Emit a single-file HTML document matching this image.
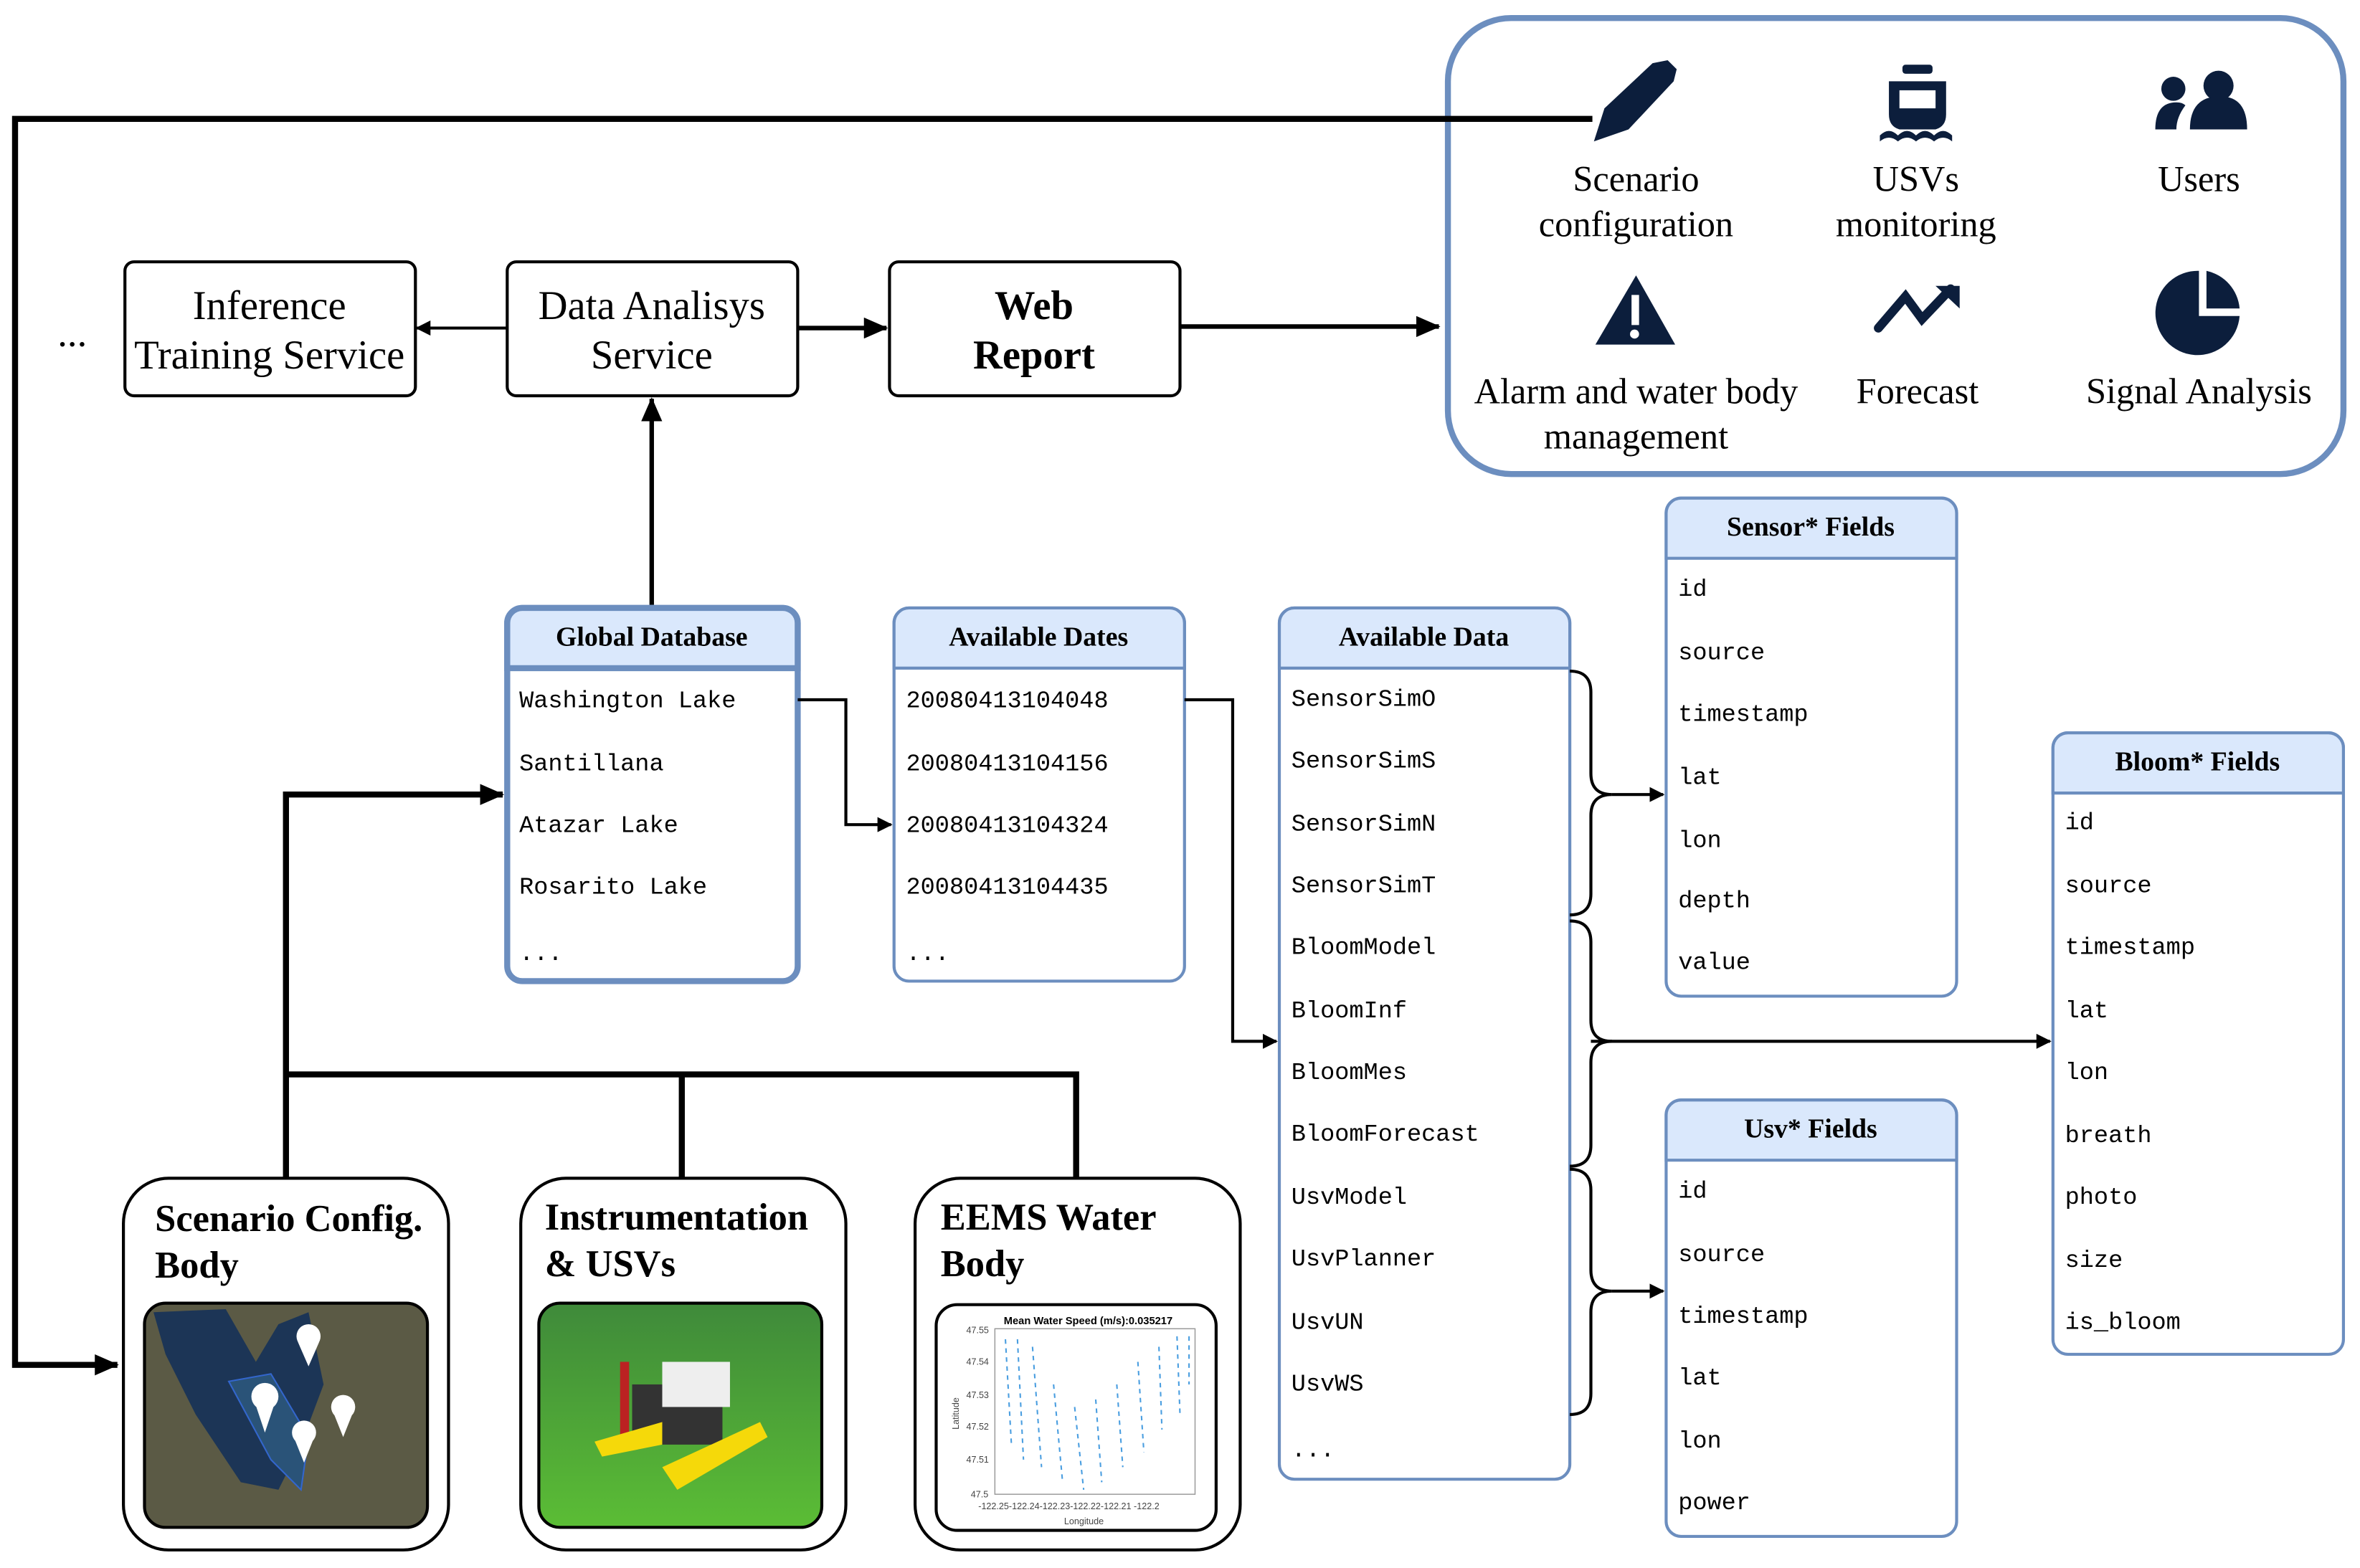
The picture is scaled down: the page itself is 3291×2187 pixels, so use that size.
<!DOCTYPE html>
<html><head><meta charset="utf-8"><style>html,body{margin:0;padding:0;background:#fff}svg{display:block}</style></head>
<body>
<svg width="3291" height="2187" viewBox="0 0 1568 1042" xmlns="http://www.w3.org/2000/svg">
<defs>
<marker id="ah" markerWidth="10" markerHeight="10" refX="9" refY="5" orient="auto" markerUnits="userSpaceOnUse"><path d="M0,0 L10,5 L0,10 Z" fill="#000"/></marker>
<marker id="ah2" markerWidth="16" markerHeight="14" refX="15" refY="7" orient="auto" markerUnits="userSpaceOnUse"><path d="M0,0 L16,7 L0,14 Z" fill="#000"/></marker>
<linearGradient id="grn" x1="0" y1="0" x2="0" y2="1"><stop offset="0" stop-color="#3f8a3a"/><stop offset="1" stop-color="#5bbd35"/></linearGradient>
</defs>
<g font-family="'Liberation Serif', serif">
<rect x="962" y="12" width="595" height="303" rx="42" fill="#fff" stroke="#6c8ebf" stroke-width="4"/>
<g fill="#0c1e3c">
<path d="M1059,94 L1066,72 L1098,42 L1108,40 L1114,46 L1112,54 L1082,86 Z"/>
<rect x="1264" y="43" width="20" height="6" rx="2"/>
<path d="M1255,54 H1293 V76 Q1293,84 1286,86 H1262 Q1255,84 1255,76 Z"/>
<path d="M1249,90 q6,-6 12,0 q6,-6 12,0 q6,-6 12,0 q6,-6 12,0 v4 q-6,-5 -12,0 q-6,-5 -12,0 q-6,-5 -12,0 q-6,-5 -12,0 z"/>
<circle cx="1444" cy="59" r="8"/><circle cx="1474" cy="57" r="10"/><path d="M1432,86 q0,-18 14,-18 q4,0 6,2 q-6,8 -6,16 z"/><path d="M1455,86 q0,-22 20,-22 q18,0 18,22 z"/>
<path d="M1087,183 L1113,229 L1060,229 Z"/>
<path d="M1248,218 L1266,197 L1277,212 L1296,192" fill="none" stroke="#0c1e3c" stroke-width="6" stroke-linecap="round"/><path d="M1286,190 L1302,190 L1302,205 Z"/>
<path d="M1461,180 A28,28 0 1 0 1488,210 L1461,210 Z"/><path d="M1466,180 A28,28 0 0 1 1488,205 L1466,205 Z"/>
</g>
<rect x="1262" y="60" width="24" height="12" fill="#fff"/>
<rect x="1084" y="196" width="5" height="20" fill="#fff"/><circle cx="1086" cy="222" r="3" fill="#fff"/>
<g font-size="24" text-anchor="middle" fill="#000">
<text x="1087" y="127">Scenario</text><text x="1087" y="157">configuration</text>
<text x="1273" y="127">USVs</text><text x="1273" y="157">monitoring</text>
<text x="1461" y="127">Users</text>
<text x="1087" y="268">Alarm and water body</text><text x="1087" y="298">management</text>
<text x="1274" y="268">Forecast</text>
<text x="1461" y="268">Signal Analysis</text>
</g>
<polyline points="1058,79 10,79 10,907 78,907" fill="none" stroke="#000" stroke-width="4" marker-end="url(#ah2)"/>
<g fill="#fff" stroke="#000" stroke-width="2">
<rect x="83" y="174" width="193" height="89" rx="6"/>
<rect x="337" y="174" width="193" height="89" rx="6"/>
<rect x="591" y="174" width="193" height="89" rx="6"/>
</g>
<g font-size="27" text-anchor="middle">
<text x="179" y="212">Inference</text><text x="179" y="245">Training Service</text>
<text x="433" y="212">Data Analisys</text><text x="433" y="245">Service</text>
<text x="687" y="212" font-weight="bold">Web</text><text x="687" y="245" font-weight="bold">Report</text>
</g>
<text x="48" y="230" font-size="26" text-anchor="middle">...</text>
<g stroke="#000" fill="none">
<line x1="337" y1="218" x2="277" y2="218" stroke-width="2" marker-end="url(#ah)"/>
<line x1="530" y1="218" x2="589" y2="218" stroke-width="3" marker-end="url(#ah2)"/>
<line x1="784" y1="217" x2="956" y2="217" stroke-width="3" marker-end="url(#ah2)"/>
<line x1="433" y1="402" x2="433" y2="265" stroke-width="3" marker-end="url(#ah2)"/>
</g>
<g stroke="#6c8ebf" stroke-width="2" fill="#fff">
<rect x="337" y="404" width="193" height="248" rx="10" stroke-width="4"/>
<rect x="594" y="404" width="193" height="248" rx="10"/>
<rect x="850" y="404" width="193" height="579" rx="10"/>
<rect x="1107" y="331" width="193" height="331" rx="10"/>
<rect x="1107" y="731" width="193" height="290" rx="10"/>
<rect x="1364" y="487" width="193" height="413" rx="10"/>
</g>
<g fill="#dae8fc" stroke="#6c8ebf" stroke-width="2">
<path d="M337,444 V414 a10,10 0 0 1 10,-10 H520 a10,10 0 0 1 10,10 V444 Z" stroke-width="4"/>
<path d="M594,444 V414 a10,10 0 0 1 10,-10 H777 a10,10 0 0 1 10,10 V444 Z"/>
<path d="M850,444 V414 a10,10 0 0 1 10,-10 H1033 a10,10 0 0 1 10,10 V444 Z"/>
<path d="M1107,371 V341 a10,10 0 0 1 10,-10 H1290 a10,10 0 0 1 10,10 V371 Z"/>
<path d="M1107,771 V741 a10,10 0 0 1 10,-10 H1290 a10,10 0 0 1 10,10 V771 Z"/>
<path d="M1364,527 V497 a10,10 0 0 1 10,-10 H1547 a10,10 0 0 1 10,10 V527 Z"/>
</g>
<g font-size="18" font-weight="bold" text-anchor="middle">
<text x="433" y="429">Global Database</text>
<text x="690" y="429">Available Dates</text>
<text x="946" y="429">Available Data</text>
<text x="1203" y="356">Sensor* Fields</text>
<text x="1203" y="756">Usv* Fields</text>
<text x="1460" y="512">Bloom* Fields</text>
</g>
<g font-family="'Liberation Mono', monospace" font-size="16">
<text x="345" y="470">Washington Lake</text><text x="345" y="512">Santillana</text><text x="345" y="553">Atazar Lake</text><text x="345" y="594">Rosarito Lake</text><text x="345" y="638">...</text>
<text x="602" y="470">20080413104048</text><text x="602" y="512">20080413104156</text><text x="602" y="553">20080413104324</text><text x="602" y="594">20080413104435</text><text x="602" y="638">...</text>
<text x="858" y="469">SensorSimO</text><text x="858" y="510">SensorSimS</text><text x="858" y="552">SensorSimN</text><text x="858" y="593">SensorSimT</text><text x="858" y="634">BloomModel</text><text x="858" y="676">BloomInf</text><text x="858" y="717">BloomMes</text><text x="858" y="758">BloomForecast</text><text x="858" y="800">UsvModel</text><text x="858" y="841">UsvPlanner</text><text x="858" y="883">UsvUN</text><text x="858" y="924">UsvWS</text><text x="858" y="968">...</text>
<text x="1115" y="396">id</text><text x="1115" y="438">source</text><text x="1115" y="479">timestamp</text><text x="1115" y="521">lat</text><text x="1115" y="563">lon</text><text x="1115" y="603">depth</text><text x="1115" y="644">value</text>
<text x="1115" y="796">id</text><text x="1115" y="838">source</text><text x="1115" y="879">timestamp</text><text x="1115" y="920">lat</text><text x="1115" y="962">lon</text><text x="1115" y="1003">power</text>
<text x="1372" y="551">id</text><text x="1372" y="593">source</text><text x="1372" y="634">timestamp</text><text x="1372" y="676">lat</text><text x="1372" y="717">lon</text><text x="1372" y="759">breath</text><text x="1372" y="800">photo</text><text x="1372" y="842">size</text><text x="1372" y="883">is_bloom</text>
</g>
<g stroke="#000" stroke-width="2" fill="none">
<polyline points="530,465 562,465 562,548 592,548" marker-end="url(#ah)"/>
<polyline points="787,465 819,465 819,692 848,692" marker-end="url(#ah)"/>
<path d="M1043,446 q14,0 14,14 V514 q0,14 14,14 q-14,0 -14,14 V594 q0,14 -14,14"/>
<path d="M1043,612 q14,0 14,14 V678 q0,14 14,14 q-14,0 -14,14 V761 q0,14 -14,14"/>
<path d="M1043,777 q14,0 14,14 V844 q0,14 14,14 q-14,0 -14,14 V926 q0,14 -14,14"/>
<line x1="1071" y1="528" x2="1105" y2="528" marker-end="url(#ah)"/>
<line x1="1057" y1="692" x2="1362" y2="692" marker-end="url(#ah)"/>
<line x1="1071" y1="858" x2="1105" y2="858" marker-end="url(#ah)"/>
</g>
<g stroke="#000" stroke-width="4" fill="none">
<polyline points="190,783 190,528 334,528" marker-end="url(#ah2)"/>
<polyline points="190,714 715,714 715,783"/>
<line x1="453" y1="714" x2="453" y2="783"/>
</g>
<g fill="#fff" stroke="#000" stroke-width="2">
<rect x="82" y="783" width="216" height="247" rx="30"/>
<rect x="346" y="783" width="216" height="247" rx="30"/>
<rect x="608" y="783" width="216" height="247" rx="30"/>
</g>
<g font-size="25" font-weight="bold">
<text x="103" y="818">Scenario Config.</text><text x="103" y="849">Body</text>
<text x="362" y="817">Instrumentation</text><text x="362" y="848">&amp; USVs</text>
<text x="625" y="817">EEMS Water</text><text x="625" y="848">Body</text>
</g>
<rect x="96" y="866" width="188" height="149" rx="14" fill="#5b5a45" stroke="#000" stroke-width="2"/>
<path d="M102,872 L150,870 L170,905 L185,880 L205,872 L215,920 L200,960 L185,990 L160,985 L130,940 L110,900 Z" fill="#1c3556"/>
<path d="M152,918 L180,913 L205,955 L200,990 L180,970 Z" fill="#2a5378" stroke="#3366cc"/>
<g fill="#fff"><circle cx="205" cy="888" r="8"/><path d="M198,892 L205,908 L212,892Z"/><circle cx="176" cy="928" r="9"/><path d="M170,934 L176,952 L182,934Z"/><circle cx="228" cy="935" r="8"/><path d="M222,940 L228,955 L234,940Z"/><circle cx="202" cy="952" r="8"/><path d="M196,957 L202,972 L208,957Z"/></g>
<rect x="358" y="866" width="188" height="149" rx="14" fill="url(#grn)" stroke="#000" stroke-width="2"/>
<g><rect x="412" y="905" width="6" height="55" fill="#b22"/><rect x="420" y="920" width="60" height="40" fill="#333"/><rect x="440" y="905" width="45" height="30" fill="#eee"/><path d="M440,975 L505,945 L510,955 L450,990 Z" fill="#f5d90a"/><path d="M395,958 L440,945 L440,960 L400,968 Z" fill="#f5d90a"/></g>
<rect x="622" y="867" width="186" height="150" rx="14" fill="#fff" stroke="#000" stroke-width="2"/>
<text x="723" y="880" font-family="'Liberation Sans',sans-serif" font-size="7" font-weight="bold" text-anchor="middle">Mean Water Speed (m/s):0.035217</text>
<rect x="661" y="883" width="133" height="110" fill="none" stroke="#999" stroke-width="0.7"/>
<g font-family="'Liberation Sans',sans-serif" font-size="6" fill="#444">
<text x="642" y="886">47.55</text><text x="642" y="907">47.54</text><text x="642" y="929">47.53</text><text x="642" y="950">47.52</text><text x="642" y="972">47.51</text><text x="645" y="995">47.5</text>
<text x="650" y="1003">-122.25-122.24-122.23-122.22-122.21 -122.2</text>
<text x="707" y="1013">Longitude</text>
<text x="637" y="950" transform="rotate(-90 637 950)">Latitude</text>
</g>
<g stroke="#4a9ee0" stroke-width="1" stroke-dasharray="3,3">
<path d="M668,890 L672,960 M676,890 L680,970 M686,895 L692,975 M700,920 L706,985 M714,935 L720,990 M728,930 L732,985 M742,920 L746,975 M756,905 L760,965 M770,895 L772,950 M782,888 L784,940 M790,888 L790,920"/>
</g>
</g>
</svg>
</body></html>
